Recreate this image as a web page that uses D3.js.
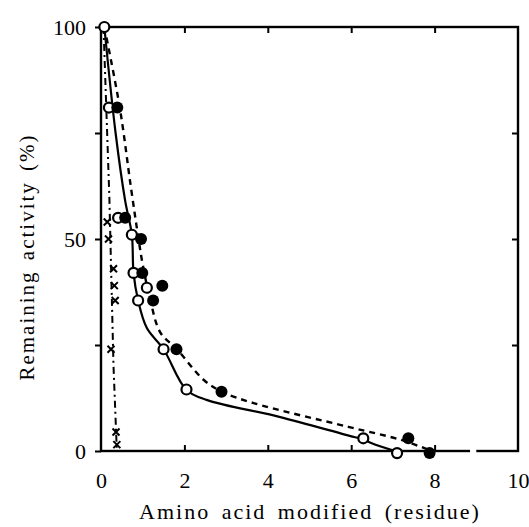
<!DOCTYPE html>
<meta charset="utf-8">
<body style="margin:0">
<svg width="529" height="527" style="display:block"></svg>
<script src="https://cdn.jsdelivr.net/npm/d3@7"></script>
<script>

    const xTicks = [0, 2, 4, 6, 8, 10];
    const yTicks = [0, 25, 50, 75, 100];
    const yLabels = [0, 50, 100];

    // open circles (solid curve)
    const openX = [0.08, 0.19, 0.41, 0.74, 0.78, 1.10, 0.89, 1.50, 2.05, 6.29, 7.10];
    const openY = [100, 81, 55, 51, 42, 38.5, 35.5, 24, 14.5, 3, -0.5];
    // filled circles (dashed curve)
    const filledX = [0.39, 0.58, 0.96, 0.99, 1.47, 1.25, 1.81, 2.89, 7.37, 7.88];
    const filledY = [81, 55, 50, 42, 39, 35.5, 24, 14, 3, -0.5];
    // crosses (dash-dot line)
    const crossX = [0.15, 0.18, 0.30, 0.32, 0.34, 0.24, 0.36, 0.38];
    const crossY = [54, 50, 43, 39, 35.5, 24, 4.5, 1.5];

    // hand drawn fitted curves
    const solidX = [0.08, 0.35, 0.58, 0.74, 0.78, 0.89, 1.10, 1.50, 2.05, 2.55, 4.30, 6.07, 6.29, 6.48, 7.05];
    const solidY = [100, 75, 59, 51, 42, 35.5, 29, 24, 14.4, 12, 8, 3.3, 2.8, 1.9, 0];
    const dashX = [0.08, 0.45, 0.72, 0.90, 1.00, 1.18, 1.42, 1.82, 2.46, 2.89, 3.66, 5.93, 7.20, 7.93];
    const dashY = [100, 81, 62, 50, 44, 35.7, 28, 24, 16.8, 14, 11.3, 5.7, 2.6, 0];
    const dotDashX = [0.06, 0.20, 0.30, 0.38];
    const dotDashY = [100, 60, 20, 0];

    d3.select("body").style("margin", "0");

    const svg = d3.select("svg");
    const mLeft = 101, mRight = 518, mTop = 27, mBottom = 451;

    const x = d3.scaleLinear().domain([0, 10]).range([mLeft, mRight]);
    const y = d3.scaleLinear().domain([0, 100]).range([mBottom, mTop]);

    const zip = (xs, ys) => xs.map((v, i) => [v, ys[i]]);

    // frame
    svg.append("rect")
        .attr("x", mLeft).attr("y", mTop)
        .attr("width", mRight - mLeft).attr("height", mBottom - mTop)
        .attr("fill", "none").attr("stroke", "#000").attr("stroke-width", 2.4);

    // small break in the bottom line near the right end, as in the print
    svg.append("line")
        .attr("x1", x(8.85)).attr("x2", x(9.0))
        .attr("y1", mBottom).attr("y2", mBottom)
        .attr("stroke", "#fff").attr("stroke-width", 4);

    const tidy = g => {
        g.select(".domain").remove();
        g.selectAll(".tick line").attr("stroke-width", 2);
    };

    // bottom axis, ticks inward
    const gx = svg.append("g")
        .attr("transform", "translate(0," + mBottom + ")")
        .call(d3.axisBottom(x).tickValues(xTicks).tickSizeInner(-6).tickSizeOuter(0).tickPadding(21).tickFormat(d3.format("d")))
        .call(tidy);
    gx.selectAll(".tick line").filter(d => d === 0 || d === 10).remove();

    // top axis, ticks inward, no labels
    svg.append("g")
        .attr("transform", "translate(0," + mTop + ")")
        .call(d3.axisTop(x).tickValues([2, 4, 6, 8]).tickSizeInner(-6).tickSizeOuter(0).tickFormat(""))
        .call(tidy);

    // left axis, ticks outward
    svg.append("g")
        .attr("transform", "translate(" + mLeft + ",0)")
        .call(d3.axisLeft(y).tickValues(yTicks).tickSizeInner(6).tickSizeOuter(0).tickPadding(9)
            .tickFormat(d => yLabels.includes(d) ? d : ""))
        .call(tidy);

    // right axis, ticks inward
    svg.append("g")
        .attr("transform", "translate(" + mRight + ",0)")
        .call(d3.axisRight(y).tickValues([25, 50, 75]).tickSizeInner(-6).tickSizeOuter(0).tickFormat(""))
        .call(tidy);

    svg.selectAll(".tick text")
        .style("font-family", "'Liberation Serif'")
        .style("font-size", "22px")
        .style("fill", "#000");

    // axis titles
    svg.append("text")
        .attr("x", 310).attr("y", 519)
        .attr("text-anchor", "middle")
        .style("font-family", "'Liberation Serif'")
        .style("font-size", "22px")
        .style("letter-spacing", "2px")
        .style("word-spacing", "4px")
        .text("Amino acid modified (residue)");

    svg.append("text")
        .attr("transform", "translate(34,257) rotate(-90)")
        .attr("text-anchor", "middle")
        .style("font-family", "'Liberation Serif'")
        .style("font-size", "21px")
        .style("letter-spacing", "2px")
        .style("word-spacing", "3px")
        .text("Remaining activity (%)");

    const line = d3.line()
        .x(d => x(d[0])).y(d => y(d[1]))
        .curve(d3.curveCatmullRom.alpha(0.5));

    svg.append("path").datum(zip(solidX, solidY))
        .attr("d", line)
        .attr("fill", "none").attr("stroke", "#000").attr("stroke-width", 2.2);

    svg.append("path").datum(zip(dashX, dashY))
        .attr("d", line)
        .attr("fill", "none").attr("stroke", "#000").attr("stroke-width", 2.4)
        .attr("stroke-dasharray", "6,5");

    svg.append("path").datum(zip(dotDashX, dotDashY))
        .attr("d", d3.line().x(d => x(d[0])).y(d => y(d[1])))
        .attr("fill", "none").attr("stroke", "#000").attr("stroke-width", 2)
        .attr("stroke-dasharray", "7,4,2,4");

    // markers
    svg.selectAll(".open").data(zip(openX, openY)).enter()
        .append("circle").attr("class", "open")
        .attr("cx", d => x(d[0])).attr("cy", d => y(d[1]))
        .attr("r", 5).attr("fill", "#fff").attr("stroke", "#000").attr("stroke-width", 2.2);

    svg.selectAll(".filled").data(zip(filledX, filledY)).enter()
        .append("circle").attr("class", "filled")
        .attr("cx", d => x(d[0])).attr("cy", d => y(d[1]))
        .attr("r", 6).attr("fill", "#000");

    svg.selectAll(".cross").data(zip(crossX, crossY)).enter()
        .append("path").attr("class", "cross")
        .attr("transform", d => "translate(" + x(d[0]) + "," + y(d[1]) + ")")
        .attr("d", "M-3.5,-3.5L3.5,3.5M-3.5,3.5L3.5,-3.5")
        .attr("stroke", "#000").attr("stroke-width", 2);

</script>
